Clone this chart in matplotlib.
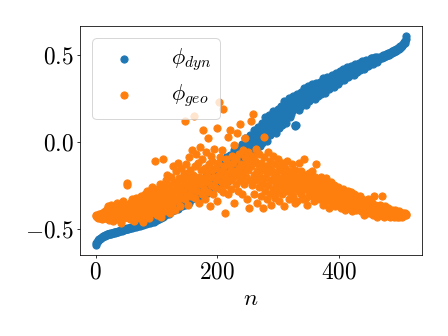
import numpy as np
import matplotlib
matplotlib.use("Agg")
import matplotlib.pyplot as plt
from matplotlib.ticker import FuncFormatter

plt.rcParams['mathtext.fontset'] = 'cm'
plt.rcParams['font.family'] = ['DejaVu Serif']

phi_dyn = [
    -0.59, -0.58, -0.575, -0.57, -0.565, -0.56, -0.558, -0.555, -0.552, -0.55, -0.548, -0.545, -0.543, -0.54, -0.54, -0.538,
    -0.536, -0.533, -0.535, -0.531, -0.53, -0.528, -0.53, -0.527, -0.526, -0.528, -0.524, -0.523, -0.525, -0.521, -0.52, -0.522,
    -0.519, -0.517, -0.52, -0.515, -0.514, -0.516, -0.512, -0.511, -0.513, -0.509, -0.508, -0.51, -0.506, -0.505, -0.507, -0.503,
    -0.502, -0.5, -0.503, -0.498, -0.497, -0.5, -0.495, -0.494, -0.497, -0.492, -0.491, -0.494, -0.489, -0.49, -0.487, -0.488,
    -0.486, -0.484, -0.488, -0.482, -0.481, -0.484, -0.479, -0.478, -0.482, -0.476, -0.475, -0.479, -0.473, -0.472, -0.476, -0.47,
    -0.471, -0.468, -0.466, -0.47, -0.464, -0.463, -0.467, -0.461, -0.46, -0.464, -0.458, -0.457, -0.461, -0.455, -0.454, -0.458,
    -0.452, -0.449, -0.452, -0.445, -0.443, -0.447, -0.44, -0.438, -0.442, -0.434, -0.432, -0.437, -0.428, -0.426, -0.431, -0.422,
    -0.405, -0.428, -0.405, -0.413, -0.388, -0.413, -0.4, -0.385, -0.415, -0.385, -0.398, -0.373, -0.398, -0.38, -0.398, -0.368,
    -0.354, -0.392, -0.358, -0.371, -0.333, -0.375, -0.357, -0.335, -0.384, -0.338, -0.36, -0.322, -0.364, -0.337, -0.367, -0.321,
    -0.34, -0.298, -0.361, -0.308, -0.321, -0.344, -0.277, -0.33, -0.292, -0.35, -0.298, -0.281, -0.324, -0.266, -0.304, -0.327,
    -0.266, -0.324, -0.275, -0.297, -0.241, -0.305, -0.28, -0.248, -0.324, -0.256, -0.291, -0.235, -0.299, -0.261, -0.308, -0.24,
    -0.273, -0.219, -0.301, -0.233, -0.251, -0.282, -0.194, -0.264, -0.216, -0.292, -0.224, -0.202, -0.259, -0.185, -0.235, -0.265,
    -0.19, -0.263, -0.2, -0.228, -0.158, -0.238, -0.206, -0.166, -0.261, -0.176, -0.22, -0.149, -0.23, -0.182, -0.24, -0.155,
    -0.198, -0.123, -0.237, -0.144, -0.168, -0.21, -0.09, -0.186, -0.12, -0.225, -0.132, -0.102, -0.18, -0.078, -0.147, -0.189,
    -0.092, -0.183, -0.104, -0.138, -0.049, -0.15, -0.109, -0.057, -0.178, -0.069, -0.124, -0.034, -0.136, -0.074, -0.148, -0.039,
    -0.088, -0.012, -0.126, -0.032, -0.056, -0.097, 0.023, -0.072, -0.006, -0.11, -0.017, 0.014, -0.064, 0.039, -0.03, -0.071,
    0.026, -0.06, 0.015, -0.017, 0.067, -0.028, 0.011, 0.06, -0.054, 0.049, -0.002, 0.083, -0.013, 0.045, -0.024, 0.079,
    0.032, 0.107, -0.007, 0.086, 0.062, 0.02, 0.14, 0.044, 0.11, 0.005, 0.098, 0.128, 0.05, 0.152, 0.083, 0.041,
    0.136, 0.049, 0.124, 0.091, 0.175, 0.079, 0.118, 0.166, 0.052, 0.154, 0.103, 0.187, 0.091, 0.148, 0.079, 0.181,
    0.133, 0.204, 0.096, 0.185, 0.162, 0.122, 0.236, 0.145, 0.208, 0.109, 0.197, 0.226, 0.152, 0.249, 0.183, 0.144,
    0.23, 0.158, 0.22, 0.193, 0.264, 0.183, 0.216, 0.095, 0.09, 0.247, 0.098, 0.274, 0.194, 0.243, 0.184, 0.27,
    0.232, 0.286, 0.203, 0.271, 0.253, 0.222, 0.309, 0.239, 0.287, 0.211, 0.278, 0.3, 0.243, 0.317, 0.266, 0.236,
    0.304, 0.246, 0.296, 0.273, 0.329, 0.265, 0.291, 0.323, 0.247, 0.314, 0.28, 0.336, 0.272, 0.31, 0.264, 0.331,
    0.299, 0.345, 0.275, 0.332, 0.317, 0.291, 0.365, 0.306, 0.347, 0.282, 0.339, 0.358, 0.31, 0.373, 0.33, 0.304,
    0.36, 0.312, 0.354, 0.336, 0.383, 0.33, 0.352, 0.379, 0.316, 0.373, 0.345, 0.392, 0.339, 0.371, 0.333, 0.39,
    0.366, 0.404, 0.346, 0.394, 0.381, 0.36, 0.42, 0.372, 0.405, 0.353, 0.399, 0.415, 0.375, 0.427, 0.391, 0.371,
    0.416, 0.378, 0.412, 0.397, 0.435, 0.393, 0.411, 0.433, 0.383, 0.428, 0.406, 0.444, 0.402, 0.428, 0.398, 0.443,
    0.424, 0.45, 0.412, 0.444, 0.436, 0.423, 0.463, 0.432, 0.454, 0.42, 0.451, 0.462, 0.436, 0.471, 0.448, 0.435,
    0.465, 0.442, 0.463, 0.455, 0.479, 0.453, 0.464, 0.479, 0.447, 0.477, 0.463, 0.487, 0.461, 0.478, 0.459, 0.488,
    0.472, 0.483, 0.475, 0.486, 0.478, 0.489, 0.481, 0.492, 0.484, 0.495, 0.487, 0.498, 0.49, 0.501, 0.493, 0.504,
    0.496, 0.507, 0.5, 0.51, 0.503, 0.514, 0.507, 0.518, 0.511, 0.522, 0.515, 0.526, 0.519, 0.53, 0.523, 0.534,
    0.527, 0.538, 0.531, 0.542, 0.536, 0.548, 0.542, 0.555, 0.55, 0.562, 0.558, 0.57, 0.568, 0.58, 0.592, 0.605,
]

phi_geo = [
    -0.42, -0.425, -0.43, -0.418, -0.435, -0.428, -0.415, -0.44, -0.422, -0.43, -0.41, -0.445, -0.42, -0.405, -0.435, -0.425,
    -0.40, -0.44, -0.385, -0.43, -0.415, -0.37, -0.45, -0.395, -0.42, -0.36, -0.44, -0.405, -0.38, -0.455, -0.41, -0.39,
    -0.375, -0.43, -0.4, -0.35, -0.445, -0.39, -0.415, -0.36, -0.43, -0.385, -0.465, -0.37, -0.41, -0.34, -0.44, -0.395,
    -0.42, -0.36, -0.4, -0.235, -0.25, -0.43, -0.375, -0.41, -0.35, -0.445, -0.39, -0.33, -0.42, -0.37, -0.4, -0.455,
    -0.35, -0.41, -0.38, -0.32, -0.43, -0.36, -0.4, -0.34, -0.44, -0.37, -0.31, -0.41, -0.35, -0.39, -0.46, -0.33,
    -0.38, -0.3, -0.42, -0.35, -0.28, -0.4, -0.33, -0.37, -0.44, -0.29, -0.36, -0.41, -0.32, -0.26, -0.39, -0.35,
    -0.3, -0.38, -0.11, -0.34, -0.42, -0.27, -0.36, -0.31, -0.4, -0.24, -0.35, -0.29, -0.43, -0.33, -0.1, -0.37,
    -0.26, -0.32, -0.4, -0.22, -0.35, -0.29, -0.19, -0.38, -0.3, -0.25, -0.41, -0.2, -0.33, -0.28, -0.36, -0.14,
    -0.31, -0.23, -0.39, -0.27, -0.17, -0.34, -0.25, -0.12, -0.3, -0.21, -0.37, -0.26, -0.15, -0.32, -0.22, -0.2,
    -0.28, -0.18, 0.12, -0.33, -0.24, -0.13, -0.3, -0.2, -0.36, -0.09, -0.26, -0.16, -0.31, -0.22, -0.05, -0.27,
    -0.19, 0.15, -0.25, -0.14, -0.32, -0.07, -0.22, -0.28, -0.12, -0.2, -0.35, -0.03, -0.24, -0.16, -0.3, -0.1,
    -0.21, 0.07, -0.27, -0.15, -0.33, -0.06, -0.23, -0.18, 0.02, -0.29, -0.13, -0.21, -0.37, -0.08, -0.25, -0.16,
    -0.11, -0.3, -0.2, -0.04, -0.26, -0.15, -0.22, 0.08, -0.34, -0.12, -0.19, 0.23, -0.27, -0.09, -0.17, -0.23,
    -0.05, -0.29, 0.19, -0.14, -0.21, -0.41, -0.1, -0.25, -0.18, 0.03, -0.3, -0.13, -0.22, 0.07, -0.16, -0.27,
    -0.08, -0.2, -0.12, -0.35, -0.02, -0.17, -0.24, -0.1, 0.05, -0.19, -0.28, -0.07, -0.15, -0.22, 0.1, -0.13,
    -0.18, -0.3, -0.05, -0.14, -0.24, -0.09, 0.02, -0.2, -0.12, -0.33, -0.06, -0.16, -0.38, -0.1, -0.22, 0.12,
    -0.14, -0.25, -0.08, 0.16, -0.19, -0.3, -0.11, -0.22, -0.04, -0.17, -0.35, -0.13, -0.26, -0.07, -0.2, -0.31,
    -0.12, -0.24, -0.16, -0.38, -0.09, 0.03, -0.21, -0.28, -0.14, -0.33, -0.18, -0.06, -0.25, -0.15, -0.3, -0.11,
    -0.22, -0.36, -0.17, -0.27, -0.08, -0.2, -0.32, -0.13, -0.24, -0.19, -0.29, -0.1, -0.23, -0.34, -0.16, -0.26,
    -0.14, -0.21, -0.3, -0.12, -0.25, -0.18, -0.37, -0.22, -0.15, -0.28, -0.2, -0.11, -0.26, -0.33, -0.17, -0.23,
    -0.29, -0.19, -0.24, -0.13, -0.31, -0.21, -0.27, -0.16, -0.35, -0.22, -0.18, -0.34, -0.25, -0.2, -0.12, -0.28,
    -0.23, -0.3, -0.17, -0.26, -0.21, -0.33, -0.1, -0.27, -0.24, -0.19, -0.32, -0.22, -0.36, -0.25, -0.18, -0.29,
    -0.21, -0.27, -0.24, -0.31, -0.17, -0.26, -0.23, -0.34, -0.2, -0.28, -0.25, -0.13, -0.3, -0.22, -0.27, -0.33,
    -0.24, -0.29, -0.2, -0.32, -0.26, -0.23, -0.36, -0.28, -0.25, -0.3, -0.21, -0.34, -0.27, -0.24, -0.31, -0.38,
    -0.26, -0.33, -0.29, -0.23, -0.35, -0.3, -0.27, -0.32, -0.25, -0.37, -0.29, -0.34, -0.28, -0.31, -0.26, -0.36,
    -0.3, -0.35, -0.28, -0.33, -0.38, -0.31, -0.27, -0.36, -0.32, -0.29, -0.39, -0.34, -0.3, -0.37, -0.33, -0.28,
    -0.35, -0.31, -0.38, -0.33, -0.29, -0.36, -0.4, -0.32, -0.35, -0.3, -0.37, -0.34, -0.39, -0.31, -0.36, -0.33,
    -0.38, -0.34, -0.31, -0.37, -0.4, -0.35, -0.33, -0.39, -0.36, -0.42, -0.34, -0.38, -0.35, -0.41, -0.37, -0.33,
    -0.39, -0.36, -0.41, -0.37, -0.34, -0.4, -0.38, -0.35, -0.42, -0.37, -0.31, -0.39, -0.36, -0.4, -0.38, -0.43,
    -0.37, -0.4, -0.38, -0.42, -0.36, -0.39, -0.41, -0.31, -0.38, -0.4, -0.43, -0.37, -0.39, -0.41, -0.38, -0.42,
    -0.4, -0.38, -0.42, -0.39, -0.43, -0.4, -0.41, -0.39, -0.42, -0.4, -0.43, -0.41, -0.39, -0.42, -0.41, -0.43,
    -0.41, -0.42, -0.4, -0.43, -0.41, -0.42, -0.41, -0.43, -0.42, -0.41, -0.42, -0.415, -0.42, -0.41, -0.418, -0.415,
]

n = np.arange(len(phi_dyn))
labels = [r'$\phi_{dyn}$', r'$\phi_{geo}$']
xticks = [0, 200, 400]
yticks = [-0.5, 0.0, 0.5]

fig = plt.figure(figsize=(6.4, 4.8), dpi=70)
ax = fig.add_axes([0.179, 0.241, 0.763, 0.682])
ax.scatter(n, phi_dyn, s=55, color='#1f77b4', label=labels[0])
ax.scatter(n, phi_geo, s=55, color='#ff7f0e', label=labels[1])

ax.set_xticks(xticks)
ax.set_yticks(yticks)
ax.xaxis.set_major_formatter(FuncFormatter(lambda v, p: r'$%d$' % v))
ax.yaxis.set_major_formatter(FuncFormatter(lambda v, p: r'$%.1f$' % v))
ax.tick_params(labelsize=24)
ax.set_xlabel(r'$n$', fontsize=24)
ax.legend(loc='upper left', fontsize=23, handletextpad=1.1, labelspacing=0.4,
          borderaxespad=0.55)

fig.savefig('out.png', dpi=70)
